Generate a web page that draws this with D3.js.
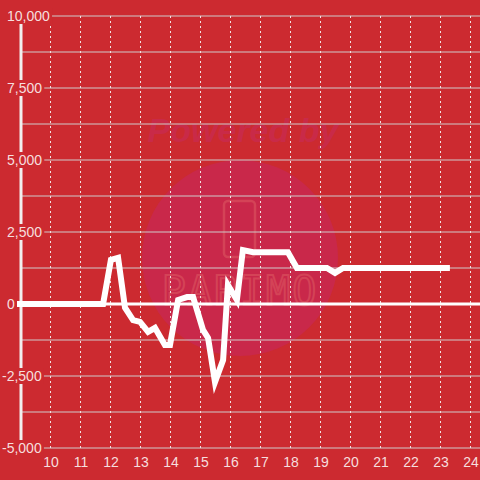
<!DOCTYPE html>
<html>
<head>
<meta charset="utf-8">
<script src="https://cdn.jsdelivr.net/npm/d3@7"></script>
<style>
    html, body { margin: 0; padding: 0; background: #cc2a30; }
    svg { display: block; }
</style>
</head>
<body>
<svg id="chart"></svg>
<script>
// values (x in the chart's units, y in the series units)
const xValues = [8.9, 11.77, 12.03, 12.27, 12.5, 12.77, 13, 13.27, 13.5, 13.83, 14, 14.27, 14.57, 14.77,
    15.1, 15.27, 15.5, 15.77, 15.93, 16.23, 16.43, 16.77, 17.93, 18.23, 19.23, 19.5, 19.77, 23.33];
const yValues = [0, 0, 1530, 1600, -130, -560, -620, -970, -830, -1420, -1420, 140, 240, 240,
    -900, -1180, -2710, -1950, 660, 140, 1875, 1800, 1800, 1250, 1250, 1080, 1250, 1250];
const xTicks = [10, 11, 12, 13, 14, 15, 16, 17, 18, 19, 20, 21, 22, 23, 24];
const yLabelTicks = [-5000, -2500, 0, 2500, 5000, 7500, 10000];
const yGridTicks = [-3750, -1250, 1250, 3750, 6250, 8750];

const W = 480, H = 480;
const svg = d3.select('#chart').attr('width', W).attr('height', H);

svg.append('rect').attr('width', W).attr('height', H).attr('fill', '#cc2a30');

const x = d3.scaleLinear().domain([9, 24 + 1 / 3]).range([20, 480]);
const y = d3.scaleLinear().domain([-5000, 10000]).range([448, 16]);

// watermark
const wm = svg.append('g');
wm.append('circle').attr('cx', 240).attr('cy', 258).attr('r', 98).attr('fill', '#c9284a');
wm.append('text')
    .attr('x', 243).attr('y', 142)
    .attr('text-anchor', 'middle')
    .attr('font-family', 'Liberation Sans, Arial, sans-serif')
    .attr('font-size', 34).attr('font-weight', 'bold').attr('font-style', 'italic')
    .attr('fill', '#c92a48')
    .text('Powered by');
wm.append('rect')
    .attr('x', 224).attr('y', 201).attr('width', 31).attr('height', 56).attr('rx', 4)
    .attr('fill', 'none').attr('stroke', '#dc5560').attr('stroke-width', 2.5).attr('opacity', 0.6);
wm.append('text')
    .attr('x', 240).attr('y', 305)
    .attr('text-anchor', 'middle')
    .attr('font-family', 'DejaVu Sans Mono, monospace')
    .attr('font-size', 40).attr('letter-spacing', 2)
    .attr('fill', 'none').attr('stroke', '#dc5560').attr('stroke-width', 2).attr('opacity', 0.6)
    .text('PARIMO');

// horizontal grid
svg.append('g')
    .selectAll('line')
    .data(yGridTicks.concat(yLabelTicks.filter((d) => d !== 0)))
    .join('line')
    .attr('x1', 20).attr('x2', 480)
    .attr('y1', (d) => y(d)).attr('y2', (d) => y(d))
    .attr('stroke', '#cfcaca').attr('stroke-width', 1);

// vertical dotted grid
svg.append('g')
    .selectAll('line')
    .data(xTicks)
    .join('line')
    .attr('x1', (d) => Math.round(x(d)) + 0.5).attr('x2', (d) => Math.round(x(d)) + 0.5)
    .attr('y1', 16).attr('y2', 448)
    .attr('stroke', '#f0e4e4').attr('stroke-width', 1).attr('stroke-dasharray', '2,3');

// zero line and y axis line
svg.append('line')
    .attr('x1', 20).attr('x2', 480).attr('y1', y(0)).attr('y2', y(0))
    .attr('stroke', '#fff').attr('stroke-width', 3);
svg.append('line')
    .attr('x1', 21).attr('x2', 21).attr('y1', 16).attr('y2', 448)
    .attr('stroke', '#f2eeee').attr('stroke-width', 3);

// y labels with backgrounds, minus sign hangs out to the left
const yl = svg.append('g')
    .selectAll('g')
    .data(yLabelTicks)
    .join('g')
    .attr('transform', (d) => `translate(${d < 0 ? 2 : 7},${y(d)})`);
const fmt = d3.format(',');
yl.append('text')
    .attr('dy', '0.35em')
    .attr('font-family', 'Liberation Sans, Arial, sans-serif')
    .attr('font-size', 14)
    .attr('fill', '#f6dede')
    .text((d) => fmt(d).replace('−', '-'))
    .each(function () {
        const b = this.getBBox();
        d3.select(this.parentNode).insert('rect', 'text')
            .attr('x', b.x - 1).attr('y', -8).attr('width', b.width + 3).attr('height', 16)
            .attr('fill', '#cc2a30');
    });

// x labels
svg.append('g')
    .selectAll('text')
    .data(xTicks)
    .join('text')
    .attr('x', (d) => x(d) + 1).attr('y', 467)
    .attr('text-anchor', 'middle')
    .attr('font-family', 'Liberation Sans, Arial, sans-serif')
    .attr('font-size', 14)
    .attr('fill', '#f6dede')
    .text((d) => d);

// series
const line = d3.line()
    .x((d) => x(d[0]))
    .y((d) => y(d[1]));
svg.append('path')
    .datum(d3.zip(xValues, yValues))
    .attr('fill', 'none')
    .attr('stroke', '#fff')
    .attr('stroke-width', 6)
    .attr('stroke-linejoin', 'miter')
    .attr('d', line);
</script>
</body>
</html>
